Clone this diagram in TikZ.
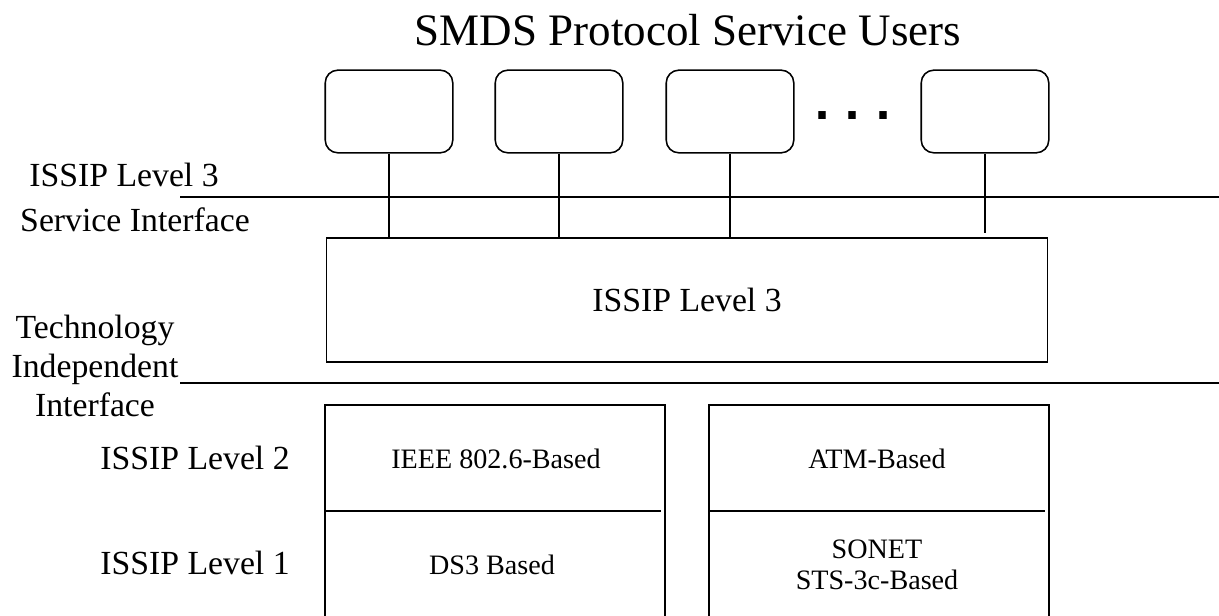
\documentclass[tikz,border=0pt]{standalone}
\usepackage{fontspec}
\setmainfont{Liberation Serif}
\newfontfamily\dotfont{DejaVu Sans}
\usetikzlibrary{positioning}
\tikzset{
user/.style={
	  draw,rounded corners=9pt,line width=1.1pt,
	    minimum width=90.7pt,minimum height=58.8pt},
layer/.style={draw,line width=1.1pt,minimum width=513pt,minimum height=87.9pt},
lbl/.style={font=\fontsize{24}{28}\selectfont,align=center},
sublbl/.style={font=\fontsize{20}{22}\selectfont,align=center}
}

\begin{document}
\begin{tikzpicture}[x=0.025cm,y=-0.025cm,line width=1.1pt]
	\useasboundingbox (0,0) rectangle (1219,616);
	\node[font=\fontsize{32}{36}\selectfont] (title) at (688,30) {SMDS Protocol Service Users};
	% service users
	\node[user] (u1) at (389,111.5) {};
	\node[user] (u2) at (559,111.5) {};
	\node[user] (u3) at (730,111.5) {};
	\node[user] (u4) at (985,111.5) {};
	\node[font=\dotfont\bfseries\fontsize{30}{30}\selectfont] (dots) at (853,116) {.\hspace{10pt}.\hspace{10pt}.};
	% level 3
	\node[layer] (l3) at (687,300) {};
	\node[lbl] (l3text) at (l3) {ISSIP Level 3};
	\draw (u1.south) -- (u1 |- l3.north);
	\draw (u2.south) -- (u2 |- l3.north);
	\draw (u3.south) -- (u3 |- l3.north);
	\coordinate (u4end) at (985,233);
	\draw (u4.south) -- (u4end);
	% interfaces
	\coordinate (si1) at (180,197); \coordinate (si2) at (1219,197);
	\coordinate (ti1) at (180,383); \coordinate (ti2) at (1219,383);
	\draw (si1) -- (si2);
	\draw (ti1) -- (ti2);
	\node[lbl] (silevel) at (124,175) {ISSIP Level 3};
	\node[lbl] (sitext) at (135,220) {Service Interface};
	\node[lbl] (titext) at (95,366) {Technology\\Independent\\Interface};
	\node[lbl] (lev2) at (195,458) {ISSIP Level 2};
	\node[lbl] (lev1) at (195,563) {ISSIP Level 1};
	% level 2 and 1
	\coordinate (a1) at (325,616); \coordinate (a2) at (325,405);
	\coordinate (a3) at (665,405); \coordinate (a4) at (665,616);
	\coordinate (b1) at (709,616); \coordinate (b2) at (709,405);
	\coordinate (b3) at (1049,405); \coordinate (b4) at (1049,616);
	\draw (a1) -- (a2) -- (a3) -- (a4);
	\draw (b1) -- (b2) -- (b3) -- (b4);
	\coordinate (am1) at (325,511); \coordinate (am2) at (661,511);
	\coordinate (bm1) at (709,511); \coordinate (bm2) at (1045,511);
	\draw (am1) -- (am2);
	\draw (bm1) -- (bm2);
	\node[sublbl] (ieee) at (496,459) {IEEE 802.6-Based};
	\node[sublbl] (ds3) at (492,565) {DS3 Based};
	\node[sublbl] (atm) at (877,459) {ATM-Based};
	\node[sublbl] (sonet) at (877,565) {SONET\\STS-3c-Based};
\end{tikzpicture}
\end{document}
